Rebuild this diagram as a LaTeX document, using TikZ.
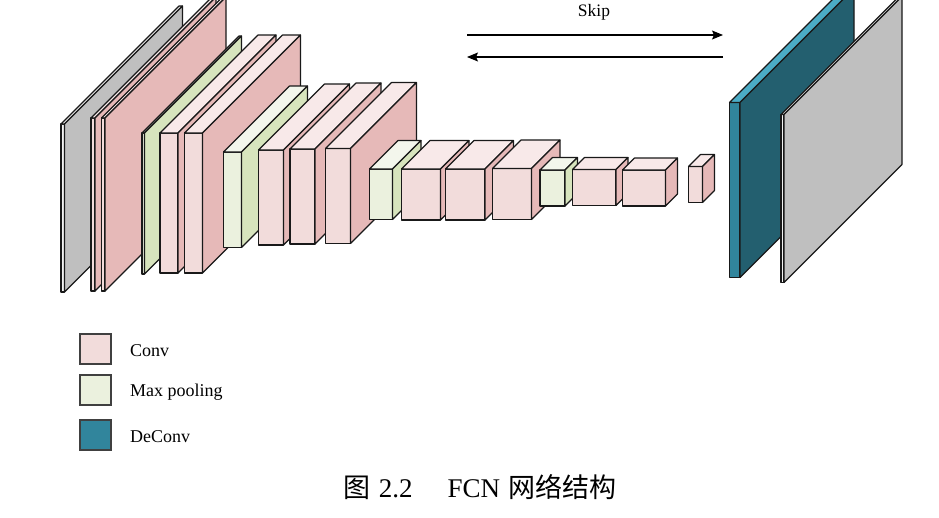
\documentclass[tikz,border=0pt]{standalone}
\usepackage{fontspec}
\setmainfont{Liberation Serif}
\newfontfamily\cjk{Noto Sans CJK SC}
\usetikzlibrary{arrows.meta}
\definecolor{convfront}{HTML}{F2DCDB}
\definecolor{convtop}{HTML}{F8E9E9}
\definecolor{convside}{HTML}{E6B9B8}
\definecolor{poolfront}{HTML}{EBF1DE}
\definecolor{pooltop}{HTML}{F3F6EC}
\definecolor{poolside}{HTML}{D7E4BD}
\definecolor{decfront}{HTML}{31859C}
\definecolor{dectop}{HTML}{4BACC6}
\definecolor{decside}{HTML}{235F6F}
\definecolor{grayfront}{HTML}{F2F2F2}
\definecolor{graytop}{HTML}{F2F2F2}
\definecolor{grayside}{HTML}{BFBFBF}
% #1 x0, #2 y0, #3 x1, #4 y1, #5 depth, #6 front, #7 top, #8 side
\newcommand\layerbox[8]{%
  \filldraw[boxline,fill=#6] (#1,#2) rectangle (#3,#4);
  \filldraw[boxline,fill=#7] (#1,#2) -- (#3,#2) -- ({#3+#5},{#2-#5}) -- ({#1+#5},{#2-#5}) -- cycle;
  \filldraw[boxline,fill=#8] (#3,#2) -- (#3,#4) -- ({#3+#5},{#4-#5}) -- ({#3+#5},{#2-#5}) -- cycle;
}
\newcommand\convbox[5]{\layerbox{#1}{#2}{#3}{#4}{#5}{convfront}{convtop}{convside}}
\newcommand\poolbox[5]{\layerbox{#1}{#2}{#3}{#4}{#5}{poolfront}{pooltop}{poolside}}
\newcommand\graybox[5]{\layerbox{#1}{#2}{#3}{#4}{#5}{grayfront}{graytop}{grayside}}
\tikzset{
  boxline/.style={draw=black!90, line width=1.15pt, line join=round},
  legendbox/.style={draw=black!75, line width=1.1pt, minimum width=31pt, minimum height=30pt, inner sep=0pt},
  legendtext/.style={anchor=west, inner sep=0pt, font=\fontsize{18}{21}\selectfont},
  skiparrow/.style={line width=1.1pt, -{Stealth[length=11pt,width=9pt,inset=2pt]}},
}
\begin{document}
\begin{tikzpicture}[x=1pt,y=-1pt]
\useasboundingbox (0,0) rectangle (939,517);
\begin{scope}
\clip (0,0) rectangle (939,517);
% encoder
\graybox{61}{124}{64.5}{292}{118}
\convbox{91}{118}{95}{291}{121}
\convbox{101.5}{118}{105}{291}{121}
\poolbox{142}{133}{144.5}{274}{97}
\convbox{160}{133}{178}{273}{98}
\convbox{184.5}{133}{202.5}{273}{98}
\poolbox{223.5}{152}{241.5}{247.5}{66}
\convbox{258.5}{150}{283.5}{245}{66}
\convbox{290}{149}{315}{244}{66}
\convbox{325.5}{148.5}{350.5}{243.5}{66}
\poolbox{369.5}{169}{392.5}{219.5}{28.5}
\convbox{401.5}{169}{440.5}{220}{28.5}
\convbox{445.5}{169}{485}{220}{28.5}
\convbox{492.5}{168.5}{531.5}{219.5}{28.5}
\poolbox{540}{170}{565}{206}{12.5}
\convbox{572.5}{169.5}{616}{205.5}{12}
\convbox{622.5}{170}{665.5}{206}{12}
\convbox{688.5}{166.5}{702.5}{202.5}{12}
% decoder
\layerbox{729.5}{102.5}{740}{277.5}{114}{decfront}{dectop}{decside}
\graybox{781}{114.5}{784}{282.5}{118}
\end{scope}
% skip arrows
\node[inner sep=0pt, font=\fontsize{17.5}{20}\selectfont] (skip) at (594,12) {Skip};
\coordinate (sa1) at (467,35);
\coordinate (sa2) at (723,35);
\coordinate (sb1) at (723,57);
\coordinate (sb2) at (467,57);
\draw[skiparrow] (sa1) -- (sa2);
\draw[skiparrow] (sb1) -- (sb2);
% legend
\node[legendbox, fill=convfront] (lconv) at (95.5,349) {};
\node[legendbox, fill=poolfront] (lpool) at (95.5,390) {};
\node[legendbox, fill=decfront] (ldec) at (95.5,435) {};
\node[legendtext] (tconv) at (130,351) {Conv};
\node[legendtext] (tpool) at (130,392) {Max pooling};
\node[legendtext] (tdec) at (130,437) {DeConv};
% caption
\node[inner sep=0pt, font=\fontsize{27}{31}\selectfont] (cap) at (480,487)
  {{\cjk 图}\hspace{8pt}2.2\hspace{35pt}FCN\hspace{8pt}{\cjk 网络结构}};
\end{tikzpicture}
\end{document}
